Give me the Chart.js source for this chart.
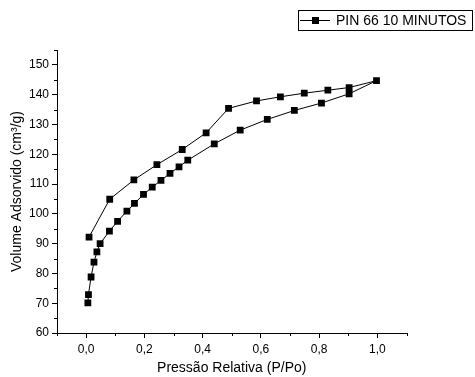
<!DOCTYPE html>
<html>
<head>
<meta charset="utf-8">
<script src="https://cdn.jsdelivr.net/npm/chart.js@4"></script>
<style>
  html, body { margin: 0; padding: 0; background: #fff; }
  #wrap { width: 475px; height: 377px; position: relative; }
</style>
</head>
<body>
<div id="wrap"><canvas id="chart" width="475" height="377"></canvas></div>
<script>
// --- data ---
const seriesLabel = 'PIN 66 10 MINUTOS';

// adsorption branch (going up in P/Po)
const adsX = [0.006, 0.008, 0.017, 0.027, 0.037, 0.048, 0.080, 0.108, 0.140, 0.166, 0.197, 0.227,
              0.257, 0.288, 0.319, 0.349, 0.440, 0.529, 0.622, 0.715, 0.808, 0.903, 0.997];
const adsY = [70.1, 72.9, 78.8, 83.8, 87.2, 90.0, 94.2, 97.5, 100.9, 103.5, 106.5, 109.0,
              111.2, 113.6, 115.8, 118.0, 123.5, 128.1, 131.7, 134.7, 137.2, 140.3, 144.7];

// desorption branch (coming back down)
const desX = [0.903, 0.830, 0.749, 0.667, 0.585, 0.489, 0.412, 0.330, 0.243, 0.164, 0.081, 0.010];
const desY = [142.4, 141.5, 140.5, 139.3, 137.9, 135.4, 127.2, 121.6, 116.5, 111.4, 104.9, 92.2];

const xMajorTicks = [0, 0.2, 0.4, 0.6, 0.8, 1.0];
const xMinorTicks = [-0.1, 0.1, 0.3, 0.5, 0.7, 0.9, 1.1];
const yMajorTicks = [60, 70, 80, 90, 100, 110, 120, 130, 140, 150];
const yMinorTicks = [65, 75, 85, 95, 105, 115, 125, 135, 145, 155];

const FONT = '"Liberation Sans", Arial, Helvetica, sans-serif';

// one continuous line: adsorption then desorption
const points = [];
adsX.forEach((x, i) => points.push({ x: x, y: adsY[i] }));
desX.forEach((x, i) => points.push({ x: x, y: desY[i] }));

// minor ticks + the boxed legend
const extrasPlugin = {
  id: 'extras',
  afterDraw(chart) {
    const ctx = chart.ctx;
    const xs = chart.scales.x, ys = chart.scales.y;
    const area = chart.chartArea;
    ctx.save();
    ctx.strokeStyle = '#000';
    ctx.lineWidth = 1;
    ctx.beginPath();
    xMinorTicks.forEach(v => {
      const px = Math.round(xs.getPixelForValue(v)) + 0.5;
      ctx.moveTo(px, area.bottom);
      ctx.lineTo(px, area.bottom + 3);
    });
    yMinorTicks.forEach(v => {
      const py = Math.round(ys.getPixelForValue(v)) + 0.5;
      ctx.moveTo(area.left, py);
      ctx.lineTo(area.left - 3, py);
    });
    ctx.stroke();

    // legend box
    ctx.strokeRect(298.5, 10.5, 174, 20);
    ctx.beginPath();
    ctx.moveTo(300, 20.5);
    ctx.lineTo(330, 20.5);
    ctx.stroke();
    ctx.fillStyle = '#000';
    ctx.fillRect(312, 17, 7, 7);
    ctx.font = '14px ' + FONT;
    ctx.textBaseline = 'middle';
    ctx.textAlign = 'left';
    ctx.fillText(seriesLabel, 336, 21);
    ctx.restore();
  }
};

new Chart(document.getElementById('chart'), {
  type: 'scatter',
  data: {
    datasets: [{
      label: seriesLabel,
      data: points,
      showLine: true,
      borderColor: '#000',
      borderWidth: 1,
      backgroundColor: '#000',
      pointStyle: 'rect',
      pointRadius: 4.8,
      pointHoverRadius: 4.8,
      pointBorderWidth: 0,
      tension: 0
    }]
  },
  options: {
    responsive: false,
    animation: false,
    layout: { padding: { top: 50, right: 68.5, left: 0, bottom: 0 } },
    plugins: {
      legend: { display: false },
      tooltip: { enabled: false }
    },
    scales: {
      x: {
        type: 'linear',
        min: -0.1,
        max: 1.1,
        afterBuildTicks: s => { s.ticks = xMajorTicks.map(v => ({ value: v })); },
        afterFit: s => { s.height = 44; },
        grid: { drawOnChartArea: false, drawTicks: true, tickLength: 5, color: '#000' },
        border: { display: true, color: '#000', width: 1 },
        ticks: {
          color: '#000',
          padding: 4,
          maxRotation: 0,
          font: { family: FONT, size: 12 },
          callback: v => v.toFixed(1).replace('.', ',')
        },
        title: {
          display: true,
          text: 'Pressão Relativa (P/Po)',
          color: '#000',
          font: { family: FONT, size: 14 },
          padding: { top: 0, bottom: 0 }
        }
      },
      y: {
        type: 'linear',
        min: 60,
        max: 155,
        afterBuildTicks: s => { s.ticks = yMajorTicks.map(v => ({ value: v })); },
        afterFit: s => { s.width = 57; },
        grid: { drawOnChartArea: false, drawTicks: true, tickLength: 5, color: '#000' },
        border: { display: true, color: '#000', width: 1 },
        ticks: {
          color: '#000',
          padding: 3,
          font: { family: FONT, size: 12 },
          callback: v => String(v)
        },
        title: {
          display: true,
          text: 'Volume Adsorvido (cm³/g)',
          color: '#000',
          font: { family: FONT, size: 14 },
          padding: { top: 9, bottom: 0 }
        }
      }
    }
  },
  plugins: [extrasPlugin]
});
</script>
</body>
</html>
